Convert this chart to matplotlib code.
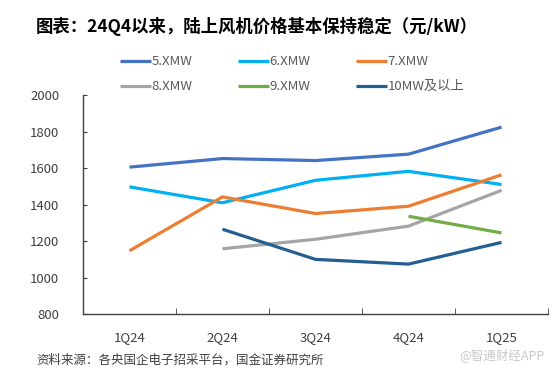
import numpy as np
import matplotlib.pyplot as plt

plt.rcParams['font.family'] = ['Noto Sans CJK SC', 'DejaVu Sans']

# 数据（元/kW）
quarters = ['1Q24', '2Q24', '3Q24', '4Q24', '1Q25']
series_names = ['5.XMW', '6.XMW', '7.XMW', '8.XMW', '9.XMW', '10MW及以上']
mw5 = [1605, 1652, 1641, 1676, 1824]
mw6 = [1497, 1410, 1533, 1582, 1510]
mw7 = [1147, 1442, 1351, 1391, 1563]
mw8 = [np.nan, 1158, 1210, 1282, 1478]
mw9 = [np.nan, np.nan, np.nan, 1336, 1245]
mw10 = [np.nan, 1265, 1100, 1074, 1193]
colors = ['#4472C4', '#00B0F0', '#ED7D31', '#A5A5A5', '#70AD47', '#255E91']

fig = plt.figure(figsize=(5.53, 3.74), dpi=100)
ax = fig.add_axes([0.150, 0.160, 0.841, 0.586])

x = np.arange(len(quarters))
lines = []
for vals, name, c in zip([mw5, mw6, mw7, mw8, mw9, mw10], series_names, colors):
    ln, = ax.plot(x, vals, color=c, lw=2.3, label=name, solid_capstyle='butt')
    lines.append(ln)

ax.set_xlim(-0.5, len(quarters) - 0.5)
ax.set_ylim(800, 2000)
ax.set_yticks(np.arange(800, 2001, 200))
ax.set_xticks(x)
ax.set_xticklabels(quarters)
ax.set_xticks(np.arange(0.5, len(quarters), 1), minor=True)
ax.tick_params(axis='x', which='major', length=0, pad=12, labelsize=9.5, labelcolor='#404040')
ax.tick_params(axis='x', which='minor', direction='in', length=4, color='#404040')
ax.tick_params(axis='y', direction='in', length=3, pad=17, labelsize=9.5,
               labelcolor='#404040', color='#404040')
for s in ['top', 'right']:
    ax.spines[s].set_visible(False)
for s in ['left', 'bottom']:
    ax.spines[s].set_color('#404040')
    ax.spines[s].set_linewidth(1.0)

# 图例（按行排列）
order = [0, 3, 1, 4, 2, 5]
leg = fig.legend([lines[i] for i in order], [series_names[i] for i in order],
                 ncol=3, loc='upper left', bbox_to_anchor=(0.207, 0.866),
                 frameon=False, fontsize=9.5, handlelength=2.35, handletextpad=0.05,
                 columnspacing=3.45, labelspacing=0.9, borderaxespad=0)
for t in leg.get_texts():
    t.set_color('#595959')

fig.text(0.065, 0.928, '图表：24Q4以来，陆上风机价格基本保持稳定（元/kW）',
         fontsize=12.5, fontweight='bold', color='#000000', va='center', ha='left')
fig.text(0.065, 0.037, '资料来源：各央国企电子招采平台，国金证券研究所',
         fontsize=9, color='#404040', va='center', ha='left')
fig.text(0.985, 0.052, '@智通财经APP', fontsize=9, color='#C8C8C8',
         va='center', ha='right')

fig.savefig('out.png', dpi=100)
